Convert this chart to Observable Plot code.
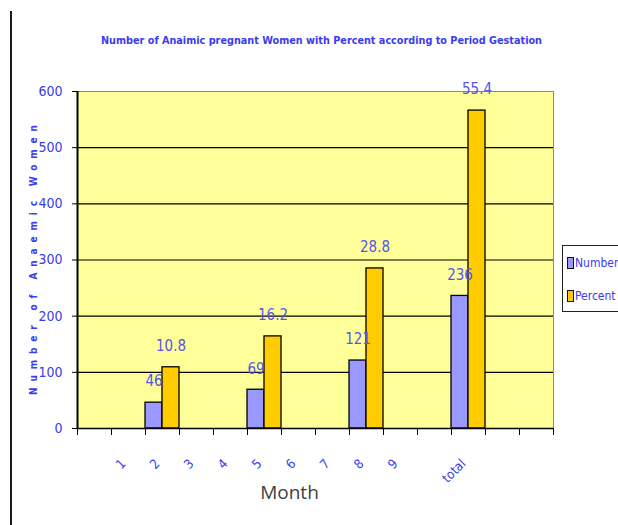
<!DOCTYPE html>
<html>
<head>
<meta charset="utf-8">
<script src="https://cdn.jsdelivr.net/npm/d3@7"></script>
<script src="https://cdn.jsdelivr.net/npm/@observablehq/plot@0.6"></script>
<style>
  html, body { margin: 0; padding: 0; background: white; overflow: hidden; }
  #wrap { position: relative; width: 618px; height: 525px; overflow: hidden; background: white; }
  #chart { position: absolute; left: 0; top: 0; }
  #edge { position: absolute; left: 10px; top: 11px; width: 2px; height: 514px; background: #1a1a1a; }
  #legend { position: absolute; left: 562px; top: 245px; width: 80px; height: 65px; border: 1px solid #222; border-right: none; background: white;
            font-family: 'DejaVu Sans', sans-serif; font-stretch: condensed; font-size: 12px; color: #3b3bf0; }
  .item { position: absolute; left: 4px; display: flex; align-items: center; white-space: nowrap; }
  .sw { width: 5px; height: 10px; border: 1px solid #111; margin-right: 1px; }
</style>
</head>
<body>
<div id="wrap">
  <div id="chart"></div>
  <div id="edge"></div>
  <div id="legend"></div>
</div>
<script>
const titleText = "Number of Anaimic pregnant Women with Percent according to Period Gestation";
const yLabelText = "Number of Anaemic Women";
const xLabelText = "Month";
const categories = ["", "1", "2", "3", "4", "5", "6", "7", "8", "9", "", "total", "", ""];
const barCategories = ["2", "5", "8", "total"];
const numberValues = [46, 69, 121, 236];
const percentValues = [10.8, 16.2, 28.8, 55.4];
const percentBarHeights = [109, 164, 285, 566];
const yTicks = [0, 100, 200, 300, 400, 500, 600];
const seriesNames = ["Number", "Percent"];
const seriesColors = ["#9999ff", "#ffcc00"];

const slotOf = c => categories.indexOf(c);
const numberRows = barCategories.map((c, i) => ({slot: slotOf(c), value: numberValues[i], label: String(numberValues[i])}));
const percentRows = barCategories.map((c, i) => ({slot: slotOf(c), value: percentBarHeights[i], label: percentValues[i].toFixed(1)}));
const catRows = categories.map((c, i) => ({slot: i, label: c}));
const blue = "#3b3bf0";
const face = "'DejaVu Sans', sans-serif";

const chart = Plot.plot({
  width: 618,
  height: 525,
  marginLeft: 77,
  marginRight: 65,
  marginTop: 91,
  marginBottom: 97,
  x: {domain: [0, categories.length]},
  y: {domain: [0, 600]},
  style: {background: "white", fontFamily: face, fontStretch: "condensed", color: "black"},
  marks: [
    Plot.frame({fill: "#ffff99", stroke: "#8a8a8a"}),
    Plot.ruleY(yTicks.filter(t => t > 0 && t < 600), {stroke: "black", strokeWidth: 1.2}),
    Plot.rect(numberRows, {x1: d => d.slot, x2: d => d.slot + 0.5, y1: 0, y2: "value", fill: seriesColors[0], stroke: "black", strokeWidth: 1.3}),
    Plot.rect(percentRows, {x1: d => d.slot + 0.5, x2: d => d.slot + 1, y1: 0, y2: "value", fill: seriesColors[1], stroke: "black", strokeWidth: 1.3}),
    Plot.ruleX([0], {stroke: "black", strokeWidth: 2}),
    Plot.ruleY([0], {stroke: "black", strokeWidth: 1.5}),
    Plot.axisY(yTicks, {tickSize: 5, tickPadding: 10, stroke: "black", fill: blue, fontSize: 14, label: null}),
    Plot.axisX(d3.range(0, categories.length + 1), {tickSize: 7, tickFormat: () => "", stroke: "black", label: null}),
    Plot.text(numberRows, {x: d => d.slot + 0.25, y: "value", text: "label", dy: -21, fill: "#5555e8", fontSize: 15}),
    Plot.text(percentRows, {x: d => d.slot + 0.75, y: "value", text: "label", dy: -21, fill: "#5555e8", fontSize: 15}),
    Plot.text(catRows, {x: d => d.slot + 0.5, text: "label", frameAnchor: "bottom", rotate: -45, textAnchor: "end", dx: -2, dy: 36, fill: blue, fontSize: 13}),
    Plot.text([yLabelText], {frameAnchor: "left", textAnchor: "middle", rotate: -90, dx: -44, fill: blue, fontSize: 10, fontWeight: "bold"}),
    Plot.text([xLabelText], {frameAnchor: "bottom", dx: -26, dy: 70, fill: "#404040", fontSize: 19, fontFamily: "'Open Sans', sans-serif"}),
    Plot.text([titleText], {frameAnchor: "top", dx: 6, dy: -55, fill: blue, fontSize: 11, fontWeight: "bold"})
  ]
});
document.getElementById("chart").appendChild(chart);

const texts = d3.select(chart).selectAll("text");
texts.filter(function() { return this.textContent === yLabelText; })
  .attr("textLength", 270).attr("lengthAdjust", "spacing");
texts.filter(function() { return this.textContent === titleText; })
  .attr("textLength", 441).attr("lengthAdjust", "spacingAndGlyphs");
texts.filter(function() { return this.textContent === xLabelText; })
  .style("font-stretch", "normal");

const legend = document.getElementById("legend");
seriesNames.forEach((name, i) => {
  const item = document.createElement("div");
  item.className = "item";
  item.style.top = (10 + i * 33) + "px";
  item.innerHTML = `<span class="sw" style="background:${seriesColors[i]}"></span><span>${name}</span>`;
  legend.appendChild(item);
});
</script>
</body>
</html>
